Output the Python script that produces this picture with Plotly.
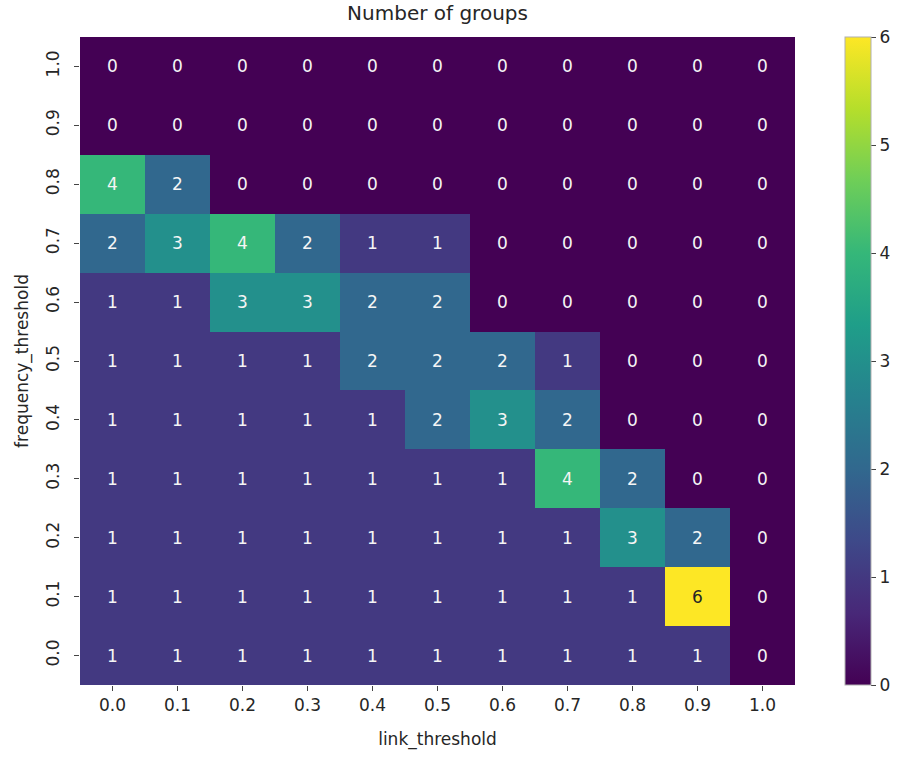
import plotly.graph_objects as go

# Threshold grids (rows listed top to bottom: frequency 1.0 -> 0.0)
link_threshold = ["0.0", "0.1", "0.2", "0.3", "0.4", "0.5", "0.6", "0.7", "0.8", "0.9", "1.0"]
frequency_threshold = ["1.0", "0.9", "0.8", "0.7", "0.6", "0.5", "0.4", "0.3", "0.2", "0.1", "0.0"]

# Number of groups per (frequency_threshold, link_threshold)
groups_f10 = [0, 0, 0, 0, 0, 0, 0, 0, 0, 0, 0]
groups_f09 = [0, 0, 0, 0, 0, 0, 0, 0, 0, 0, 0]
groups_f08 = [4, 2, 0, 0, 0, 0, 0, 0, 0, 0, 0]
groups_f07 = [2, 3, 4, 2, 1, 1, 0, 0, 0, 0, 0]
groups_f06 = [1, 1, 3, 3, 2, 2, 0, 0, 0, 0, 0]
groups_f05 = [1, 1, 1, 1, 2, 2, 2, 1, 0, 0, 0]
groups_f04 = [1, 1, 1, 1, 1, 2, 3, 2, 0, 0, 0]
groups_f03 = [1, 1, 1, 1, 1, 1, 1, 4, 2, 0, 0]
groups_f02 = [1, 1, 1, 1, 1, 1, 1, 1, 3, 2, 0]
groups_f01 = [1, 1, 1, 1, 1, 1, 1, 1, 1, 6, 0]
groups_f00 = [1, 1, 1, 1, 1, 1, 1, 1, 1, 1, 0]

colorbar_ticks = [0, 1, 2, 3, 4, 5, 6]

z = [groups_f10, groups_f09, groups_f08, groups_f07, groups_f06, groups_f05,
     groups_f04, groups_f03, groups_f02, groups_f01, groups_f00]

ZMIN, ZMAX = 0, 6
FONT = "DejaVu Sans"
TEXT = "#262626"
FS = 17

ML, MR, MT, MB = 80, 118, 37, 67
W, H = 913, 757
plot_w = W - ML - MR

fig = go.Figure(
    go.Heatmap(
        z=z,
        x=list(range(len(link_threshold))),
        y=list(range(len(frequency_threshold))),
        colorscale="Viridis",
        zmin=ZMIN,
        zmax=ZMAX,
        colorbar=dict(
            x=(845 - ML) / plot_w,
            xanchor="left",
            y=0.5,
            yanchor="middle",
            len=1.0,
            lenmode="fraction",
            ypad=0,
            xpad=0,
            thickness=26,
            thicknessmode="pixels",
            outlinewidth=1,
            outlinecolor="#b0b0b0",
            tickmode="array",
            tickvals=colorbar_ticks,
            ticks="outside",
            ticklen=5,
            tickwidth=1,
            tickcolor="#444444",
            tickfont=dict(family=FONT, size=FS, color=TEXT),
        ),
    )
)

# Cell annotations: light text on dark cells, dark text on bright cells
annotations = []
for r, row in enumerate(z):
    for c, v in enumerate(row):
        bright = (v - ZMIN) / (ZMAX - ZMIN) > 0.8
        annotations.append(dict(
            x=c, y=r, xref="x", yref="y", text=str(v), showarrow=False,
            font=dict(family=FONT, size=FS,
                      color="#262626" if bright else "#f5f5f5"),
        ))

fig.update_layout(
    width=W,
    height=H,
    margin=dict(l=ML, r=MR, t=MT, b=MB),
    paper_bgcolor="white",
    plot_bgcolor="white",
    font=dict(family=FONT, color=TEXT),
    title=dict(
        text="Number of groups",
        x=(ML + W - MR) / 2 / W,
        xanchor="center",
        y=1 - 13 / H,
        yanchor="middle",
        font=dict(family=FONT, size=20, color=TEXT),
    ),
    annotations=annotations,
    xaxis=dict(
        title=dict(text="link_threshold", font=dict(family=FONT, size=FS, color=TEXT), standoff=18),
        tickmode="array",
        tickvals=list(range(len(link_threshold))),
        ticktext=link_threshold,
        range=[-0.5, len(link_threshold) - 0.5],
        ticks="outside",
        ticklen=5,
        tickcolor="#444444",
        tickfont=dict(family=FONT, size=FS, color=TEXT),
        showgrid=False,
        zeroline=False,
        showline=False,
    ),
    yaxis=dict(
        title=dict(text="frequency_threshold", font=dict(family=FONT, size=FS, color=TEXT), standoff=10),
        tickmode="array",
        tickvals=list(range(len(frequency_threshold))),
        ticktext=frequency_threshold,
        range=[len(frequency_threshold) - 0.5, -0.5],
        ticks="outside",
        ticklen=5,
        tickcolor="#444444",
        tickangle=-90,
        ticklabelstandoff=8,
        tickfont=dict(family=FONT, size=FS, color=TEXT),
        showgrid=False,
        zeroline=False,
        showline=False,
    ),
)

fig.write_html("out.html")
